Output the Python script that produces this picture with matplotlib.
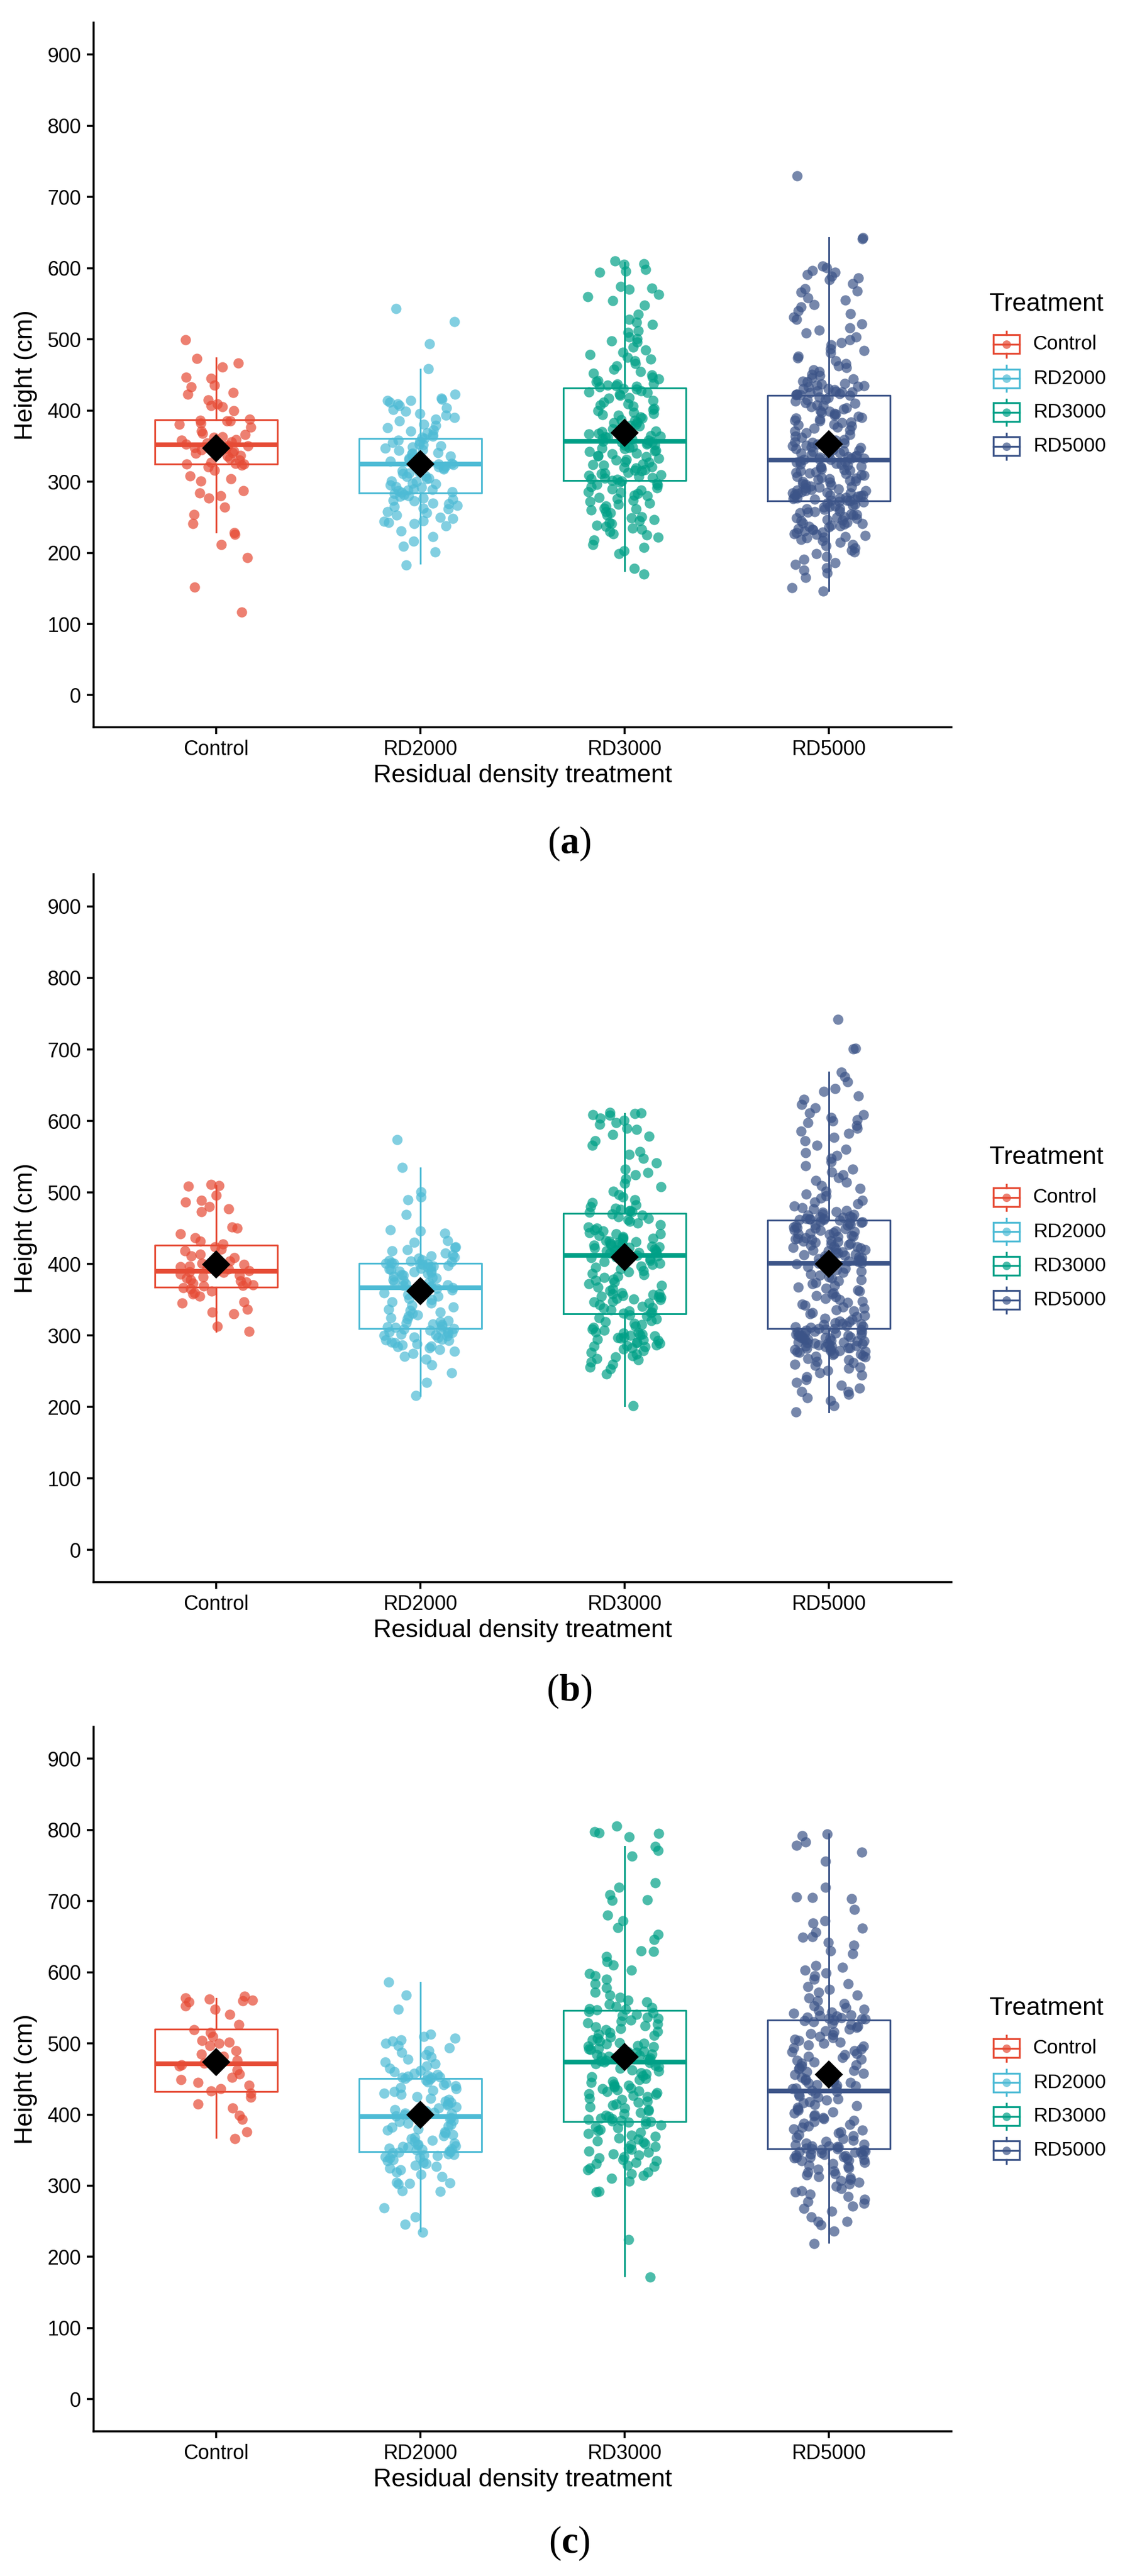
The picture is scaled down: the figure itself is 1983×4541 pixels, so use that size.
import numpy as np
import matplotlib
matplotlib.use('Agg')
import matplotlib.pyplot as plt
from matplotlib.patches import Rectangle

plt.rcParams['font.family'] = 'Liberation Sans'
plt.rcParams['mathtext.fontset'] = 'custom'
plt.rcParams['mathtext.rm'] = 'Liberation Serif'
plt.rcParams['mathtext.bf'] = 'Liberation Serif:bold'

treatments = ['Control', 'RD2000', 'RD3000', 'RD5000']
colors = ['#E64B35', '#4DBBD5', '#00A087', '#3C5488']

# ---- panel (a): heights (cm)
a_control = [499, 473, 467, 461, 447, 445, 436, 433, 425, 423, 415, 409, 407, 405, 400, 388,
             386, 385, 385, 382, 381, 377, 371, 368, 366, 363, 362, 359, 358, 356, 354, 353,
             351, 350, 348, 346, 345, 343, 341, 340, 337, 336, 333, 330, 327, 326, 325, 325,
             323, 321, 316, 308, 304, 301, 287, 284, 280, 277, 264, 254, 241, 228, 226, 212, 193, 152, 117]
a_rd2000 = [543, 525, 494, 459, 423, 417, 416, 414, 414, 412, 409, 407, 404, 401, 399, 396, 393, 390, 388, 385,
            381, 379, 376, 373, 371, 369, 366, 364, 362, 361, 358, 357, 355, 353, 352, 350, 349, 347, 345, 344,
            341, 340, 339, 336, 335, 333, 331, 330, 329, 327, 326, 326, 325, 324, 322, 321, 319, 318, 315, 314,
            312, 311, 308, 307, 305, 304, 301, 300, 298, 297, 295, 293, 292, 290, 289, 288, 287, 286, 285, 283,
            282, 280, 279, 277, 275, 274, 273, 270, 269, 267, 265, 263, 262, 258, 256, 253, 250, 248, 245, 244,
            243, 241, 238, 231, 223, 216, 209, 201, 183]
a_rd3000 = [610, 606, 605, 598, 596, 594, 574, 572, 570, 563, 560, 554, 548, 535, 528, 524, 521, 512, 510, 503,
            501, 498, 496, 489, 485, 482, 479, 475, 472, 470, 466, 463, 458, 455, 452, 450, 447, 444, 442, 440,
            438, 437, 436, 435, 434, 433, 431, 430, 428, 426, 425, 423, 421, 418, 417, 414, 412, 409, 408, 406,
            403, 401, 400, 397, 396, 394, 393, 391, 389, 387, 386, 384, 383, 381, 379, 378, 376, 374, 373, 371,
            370, 368, 367, 365, 364, 363, 362, 361, 360, 359, 358, 357, 356, 355, 354, 353, 352, 351, 349, 348,
            347, 346, 344, 343, 342, 340, 339, 337, 336, 335, 333, 331, 330, 328, 327, 325, 324, 323, 321, 320,
            319, 317, 316, 315, 313, 312, 311, 310, 309, 307, 306, 305, 304, 303, 302, 301, 299, 298, 296, 295,
            293, 291, 290, 288, 286, 285, 283, 281, 280, 278, 276, 274, 272, 270, 268, 266, 263, 262, 260, 258,
            256, 253, 251, 249, 247, 245, 243, 241, 239, 237, 235, 233, 230, 227, 225, 222, 218, 212, 208, 203,
            199, 178, 170]
a_rd5000 = [730, 643, 641, 603, 601, 597, 594, 591, 589, 586, 584, 578, 571, 568, 566, 558, 555, 549, 546, 540,
            536, 531, 528, 522, 516, 513, 509, 503, 499, 495, 492, 487, 484, 481, 476, 474, 470, 466, 463, 460,
            457, 455, 451, 449, 446, 444, 441, 440, 438, 437, 436, 435, 434, 433, 431, 431, 429, 428, 427, 426,
            426, 425, 424, 423, 423, 422, 422, 421, 419, 418, 416, 415, 413, 411, 410, 408, 407, 405, 404, 402,
            400, 399, 397, 396, 395, 393, 392, 390, 389, 388, 386, 385, 384, 383, 381, 380, 378, 377, 375, 373,
            371, 369, 366, 364, 362, 361, 359, 358, 356, 355, 354, 353, 351, 350, 349, 348, 346, 345, 344, 343,
            342, 341, 340, 339, 338, 337, 336, 335, 334, 333, 333, 332, 331, 331, 329, 328, 327, 326, 325, 324,
            323, 322, 321, 320, 318, 317, 316, 315, 314, 313, 312, 311, 310, 309, 307, 306, 305, 304, 303, 302,
            301, 300, 299, 297, 296, 295, 294, 293, 292, 291, 290, 289, 288, 287, 287, 286, 285, 284, 284, 283,
            282, 281, 281, 280, 279, 278, 278, 277, 277, 276, 275, 275, 274, 274, 273, 272, 271, 270, 268, 267,
            266, 265, 264, 263, 262, 261, 259, 258, 257, 256, 255, 254, 253, 251, 250, 249, 248, 247, 246, 245,
            243, 242, 241, 240, 239, 238, 237, 236, 234, 233, 232, 231, 229, 228, 227, 226, 224, 223, 222, 221,
            219, 217, 215, 212, 210, 207, 204, 201, 199, 195, 191, 186, 184, 179, 176, 172, 165, 151, 146]

# ---- panel (b)
b_control = [511, 510, 509, 496, 489, 487, 480, 477, 473, 452, 450, 442, 437, 432, 428,
             424, 421, 418, 414, 411, 409, 404, 401, 399, 397, 396, 394, 393, 391, 390,
             389, 388, 386, 384, 382, 380, 378, 376, 375, 373, 371, 370, 369,
             367, 365, 362, 360, 358, 355, 347, 345, 337, 333, 330, 313, 306]
b_rd2000 = [574, 535, 501, 494, 490, 469, 448, 446, 443, 433, 430, 424, 423, 420, 418, 415, 413, 411, 410, 408,
            406, 405, 404, 403, 402, 401, 401, 400, 400, 399, 398, 397, 396, 395, 394, 393, 392, 391, 390, 389,
            388, 387, 385, 384, 383, 381, 380, 378, 377, 375, 374, 372, 371, 370, 369, 368, 367, 366, 364, 362,
            360, 357, 355, 352, 350, 347, 345, 342, 340, 337, 335, 333, 331, 329, 327, 325, 323, 321, 319, 318,
            316, 315, 313, 312, 311, 310, 309, 308, 307, 306, 305, 304, 303, 302, 301, 300, 299, 298, 297, 295,
            294, 293, 291, 290, 288, 287, 285, 284, 283, 280, 278, 275, 271, 267, 259, 248, 234, 216]
b_rd3000 = [612, 611, 610, 609, 608, 604, 601, 598, 595, 590, 588, 581, 579, 572, 566, 557, 553, 548, 541, 533,
            528, 525, 519, 513, 508, 502, 497, 494, 490, 486, 483, 480, 478, 476, 475, 474, 473, 472, 470, 468,
            466, 464, 462, 460, 457, 455, 452, 450, 448, 446, 444, 442, 440, 438, 436, 435, 433, 432, 430, 429,
            428, 427, 426, 425, 424, 423, 422, 421, 420, 419, 418, 417, 416, 415, 414, 413, 413, 412, 411, 409,
            407, 405, 403, 401, 399, 397, 395, 393, 391, 389, 387, 385, 383, 381, 379, 377, 375, 372, 370, 368,
            365, 363, 360, 358, 357, 355, 353, 352, 350, 348, 347, 345, 343, 341, 339, 338, 336, 334, 333, 332,
            331, 329, 327, 325, 323, 321, 319, 317, 315, 313, 311, 309, 307, 305, 303, 302, 300, 299, 298, 296,
            295, 293, 291, 289, 287, 285, 283, 281, 279, 276, 274, 272, 270, 268, 266, 263, 260, 256, 253, 246,
            202, 304, 301, 297, 294, 290, 286, 284, 358, 356, 354, 351, 442, 437, 431, 426, 418, 410]
b_rd5000 = [742, 702, 701, 668, 662, 655, 645, 641, 635, 630, 623, 618, 611, 609, 605, 602, 600, 598, 594, 590,
            586, 583, 577, 572, 566, 560, 556, 552, 548, 543, 537, 533, 529, 525, 521, 517, 514, 510, 506, 502,
            498, 495, 492, 489, 487, 484, 481, 479, 477, 475, 473, 472, 470, 469, 468, 467, 466, 465, 465, 464,
            464, 463, 463, 462, 462, 461, 460, 459, 458, 457, 456, 455, 454, 453, 452, 451, 450, 449, 448, 447,
            446, 445, 444, 443, 442, 441, 440, 439, 438, 437, 436, 435, 434, 433, 432, 431, 430, 429, 428, 427,
            426, 425, 424, 423, 422, 421, 420, 419, 418, 417, 416, 415, 414, 413, 412, 411, 410, 409, 408, 407,
            406, 405, 404, 403, 402, 402, 401, 400, 398, 396, 394, 392, 390, 388, 386, 384, 382, 380, 378, 376,
            374, 372, 370, 368, 366, 364, 362, 360, 358, 356, 354, 352, 350, 348, 346, 344, 342, 340, 338, 336,
            334, 332, 330, 328, 326, 324, 322, 320, 319, 318, 317, 316, 315, 314, 313, 312, 311, 310, 310, 309,
            308, 307, 306, 305, 304, 303, 302, 301, 300, 299, 298, 297, 296, 295, 294, 293, 292, 291, 290, 289,
            288, 287, 286, 285, 284, 283, 282, 281, 280, 279, 278, 277, 276, 275, 274, 273, 272, 271, 270, 268,
            266, 264, 262, 260, 258, 256, 254, 251, 248, 245, 242, 238, 234, 230, 226, 222, 222, 218, 213, 209,
            202, 193, 305, 300, 296, 291, 287, 283, 279, 301, 297, 292, 289, 285]

# ---- panel (c)
c_control = [566, 564, 562, 561, 560, 558, 553, 548, 541, 526,
             519, 515, 510, 504, 502, 500, 497, 490, 485, 482,
             476, 472, 470, 468, 463, 457, 452, 449, 445, 441,
             436, 433, 430, 424, 415, 409, 399, 393, 376, 366]
c_rd2000 = [586, 568, 548, 513, 510, 507, 505, 503, 500, 497, 494, 490, 487, 484, 481, 478, 474, 471, 468, 465,
            462, 460, 458, 456, 455, 454, 453, 452, 452, 451, 450, 448, 446, 444, 442, 440, 438, 436, 434, 432,
            430, 428, 425, 423, 421, 419, 417, 415, 413, 411, 409, 407, 405, 404, 403, 402, 401, 400, 399, 398,
            396, 394, 392, 390, 388, 386, 384, 382, 380, 378, 376, 374, 372, 370, 368, 366, 364, 362, 360, 358,
            357, 356, 355, 354, 353, 352, 351, 350, 349, 348, 347, 346, 345, 344, 343, 342, 341, 340, 339, 337,
            335, 333, 331, 329, 327, 325, 322, 319, 316, 313, 305, 304, 303, 302, 293, 292, 269, 256, 246, 235]
c_rd3000 = [805, 797, 796, 795, 790, 777, 771, 763, 726, 719, 709, 702, 701, 680, 672, 663, 653, 646, 630, 629,
            622, 615, 610, 603, 598, 595, 590, 584, 578, 572, 568, 565, 561, 558, 555, 552, 550, 549, 548, 547,
            545, 543, 541, 539, 537, 535, 533, 531, 529, 527, 525, 523, 521, 519, 517, 515, 513, 511, 509, 507,
            505, 503, 501, 499, 497, 495, 493, 491, 489, 487, 485, 484, 483, 482, 481, 480, 479, 478, 477, 476,
            475, 475, 474, 473, 471, 469, 467, 465, 463, 461, 459, 457, 455, 453, 451, 449, 447, 445, 443, 441,
            439, 437, 435, 433, 431, 429, 427, 425, 423, 421, 419, 417, 415, 413, 411, 409, 407, 405, 403, 401,
            399, 397, 395, 394, 393, 392, 391, 391, 390, 389, 387, 385, 383, 381, 379, 377, 375, 373, 371, 369,
            367, 365, 363, 361, 359, 357, 355, 353, 351, 349, 347, 345, 343, 341, 339, 337, 335, 333, 331, 329,
            327, 325, 322, 319, 317, 314, 310, 306, 292, 291, 224, 172, 488, 492, 496, 500, 440, 436, 432, 428]
c_rd5000 = [794, 792, 783, 778, 769, 756, 719, 706, 705, 703, 688, 672, 669, 662, 656, 650, 649, 642, 638, 630,
            626, 609, 607, 603, 599, 595, 590, 584, 580, 576, 572, 568, 564, 560, 556, 553, 550, 548, 546, 544,
            542, 540, 539, 538, 537, 536, 535, 534, 534, 533, 532, 530, 528, 526, 524, 522, 520, 518, 516, 514,
            512, 510, 508, 506, 504, 502, 500, 498, 496, 494, 492, 490, 488, 486, 484, 482, 480, 478, 476, 474,
            472, 470, 468, 466, 464, 462, 460, 458, 456, 454, 452, 450, 448, 446, 444, 442, 440, 438, 436, 434,
            432, 430, 428, 426, 424, 422, 420, 418, 416, 414, 412, 410, 408, 406, 404, 402, 400, 398, 396, 394,
            392, 390, 388, 386, 384, 382, 380, 378, 376, 374, 372, 370, 368, 366, 364, 362, 360, 358, 357, 356,
            355, 354, 353, 352, 351, 350, 349, 348, 347, 346, 345, 344, 343, 342, 341, 340, 339, 338, 337, 335,
            333, 331, 329, 327, 325, 323, 321, 319, 317, 315, 313, 311, 309, 307, 305, 302, 299, 296, 293, 291,
            288, 285, 281, 278, 275, 271, 268, 264, 256, 250, 250, 245, 236, 219, 445, 441, 437, 449, 453, 348,
            344, 340, 336, 352, 356]

# ---- box statistics
a_q1 = [325, 284, 302, 273]
a_med = [352, 325, 357, 330]
a_q3 = [387, 361, 432, 421]
a_lo = [229, 185, 175, 147]
a_hi = [474, 458, 608, 643]
a_mean = [347, 325, 369, 353]

b_q1 = [368, 310, 330, 310]
b_med = [390, 367, 412, 401]
b_q3 = [426, 401, 471, 461]
b_lo = [306, 216, 202, 193]
b_hi = [510, 534, 610, 668]
b_mean = [399, 362, 410, 400]

c_q1 = [432, 348, 390, 352]
c_med = [471, 397, 474, 433]
c_q3 = [520, 451, 546, 533]
c_lo = [368, 236, 173, 220]
c_hi = [563, 585, 777, 794]
c_mean = [474, 400, 481, 456]

panels = [
    ([a_control, a_rd2000, a_rd3000, a_rd5000], a_q1, a_med, a_q3, a_lo, a_hi, a_mean, 'a'),
    ([b_control, b_rd2000, b_rd3000, b_rd5000], b_q1, b_med, b_q3, b_lo, b_hi, b_mean, 'b'),
    ([c_control, c_rd2000, c_rd3000, c_rd5000], c_q1, c_med, c_q3, c_lo, c_hi, c_mean, 'c'),
]

# horizontal jitter only, like geom_jitter
rng = np.random.default_rng(3)

fig = plt.figure(figsize=(1983 / 300, 4541 / 300), dpi=300)
rects = [[0.0832, 0.7177, 0.7625, 0.2735],
         [0.0832, 0.3858, 0.7625, 0.2748],
         [0.0832, 0.0562, 0.7625, 0.2735]]
label_y = [0.6725, 0.3435, 0.0127]


def draw_legend(ax):
    ax.text(1.044, 0.600, 'Treatment', transform=ax.transAxes, fontsize=10.7,
            va='center', ha='left')
    key_y = [0.5435, 0.495, 0.447, 0.3986]
    cx, w, h, wh = 1.064, 0.0304, 0.0266, 0.0185
    for name, col, y in zip(treatments, colors, key_y):
        ax.add_patch(Rectangle((cx - w / 2, y - h / 2), w, h, fill=False, edgecolor=col,
                               lw=0.8, transform=ax.transAxes, clip_on=False))
        ax.plot([cx - w / 2, cx + w / 2], [y, y], color=col, lw=0.8,
                transform=ax.transAxes, clip_on=False)
        ax.plot([cx, cx], [y + h / 2, y + wh], color=col, lw=0.8,
                transform=ax.transAxes, clip_on=False)
        ax.plot([cx, cx], [y - h / 2, y - wh], color=col, lw=0.8,
                transform=ax.transAxes, clip_on=False)
        ax.plot([cx], [y], marker='o', ms=3.6, color=col, alpha=0.7, mec='none',
                transform=ax.transAxes, clip_on=False)
        ax.text(1.095, y, name, transform=ax.transAxes, fontsize=8.4, va='center', ha='left')


for rect, ly, (groups, q1, med, q3, lo, hi, mean, tag) in zip(rects, label_y, panels):
    ax = fig.add_axes(rect)
    for i, vals in enumerate(groups):
        x = i + 1
        col = colors[i]
        jit = rng.uniform(-0.18, 0.18, len(vals))
        ax.scatter(x + jit, vals, s=19, color=col, alpha=0.7, linewidths=0, zorder=2)
        stats = [dict(med=med[i], q1=q1[i], q3=q3[i], whislo=lo[i], whishi=hi[i], fliers=[])]
        ax.bxp(stats, positions=[x], widths=0.6, showcaps=False, showfliers=False,
               boxprops=dict(color=col, lw=0.75),
               whiskerprops=dict(color=col, lw=0.75),
               medianprops=dict(color=col, lw=2.0, solid_capstyle='butt'),
               manage_ticks=False, zorder=3)
        ax.plot([x], [mean[i]], marker='D', color='black', ms=7.4, ls='none', zorder=4)

    ax.set_xlim(0.4, 4.6)
    ax.set_ylim(-45, 945)
    ax.set_yticks(range(0, 1000, 100))
    ax.set_xticks([1, 2, 3, 4])
    ax.set_xticklabels(treatments)
    for s in ['top', 'right']:
        ax.spines[s].set_visible(False)
    for s in ['left', 'bottom']:
        ax.spines[s].set_linewidth(0.85)
    ax.tick_params(length=2.8, width=0.85, labelsize=8.6, pad=2.5, colors='black')
    ax.set_xlabel('Residual density treatment', fontsize=10.7, labelpad=2)
    ax.set_ylabel('Height (cm)', fontsize=10.7, labelpad=4)
    draw_legend(ax)

    fig.text(0.506, ly, r'$\mathrm{(}\mathbf{%s}\mathrm{)}$' % tag, ha='center', va='center',
             fontsize=16)

fig.savefig('out.png', dpi=300)
